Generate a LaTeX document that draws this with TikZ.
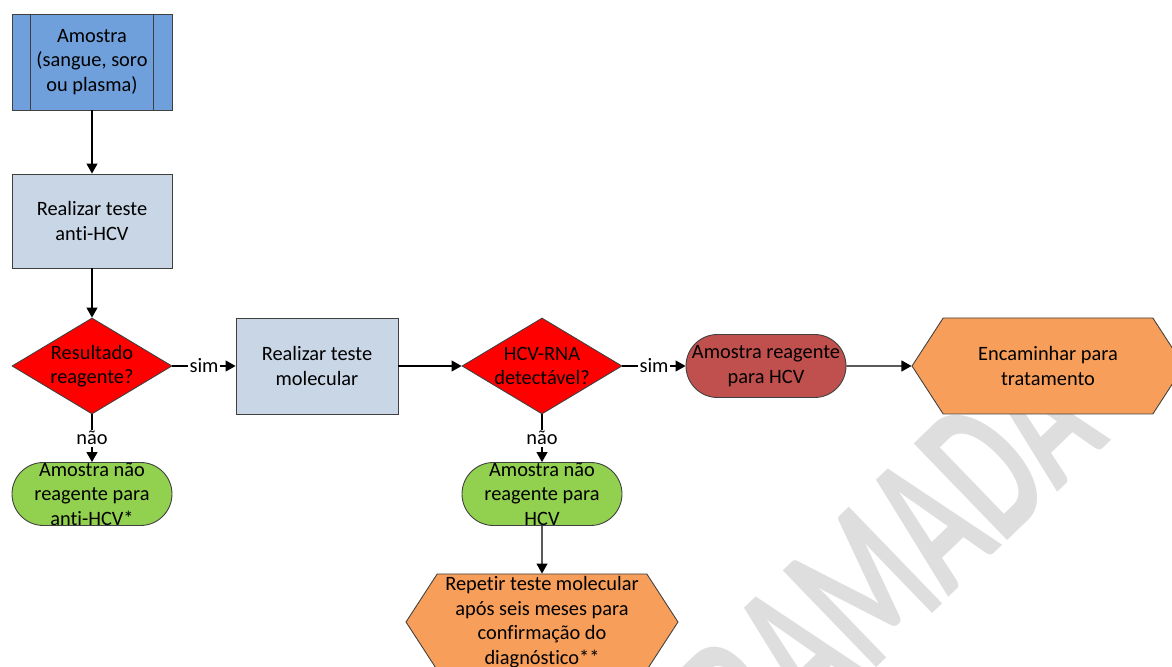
\documentclass[tikz,border=0pt]{standalone}
\usepackage{fontspec}
\setmainfont{Carlito}[Ligatures=NoCommon]
\usetikzlibrary{shapes.geometric,shapes.symbols,arrows.meta}

\definecolor{azulamostra}{RGB}{111,160,220}
\definecolor{cinzaproc}{RGB}{200,214,230}
\definecolor{vermelhodec}{RGB}{255,0,0}
\definecolor{vermelhoterm}{RGB}{192,80,77}
\definecolor{verdeterm}{RGB}{146,208,80}
\definecolor{laranjaprep}{RGB}{246,158,90}
\definecolor{contorno}{RGB}{64,64,64}
\definecolor{marcadagua}{RGB}{222,222,222}

\tikzset{
	base/.style={draw=contorno, line width=0.5pt, align=center, inner sep=0pt,
		font=\fontsize{11.6}{14}\selectfont},
	predef/.style={base, rectangle, fill=azulamostra, minimum width=3.2cm, minimum height=1.92cm},
	processo/.style={base, rectangle, fill=cinzaproc, minimum width=3.2cm, minimum height=1.88cm},
	decisao/.style={base, diamond, aspect=1.7, fill=vermelhodec, minimum width=3.2cm, minimum height=1.92cm},
	terminal/.style={base, rectangle, rounded corners=0.63cm, minimum width=3.2cm, minimum height=1.26cm},
	preparo/.style={base, signal, signal to=west and east, signal pointer angle=114,
		fill=laranjaprep, minimum width=5.44cm, minimum height=1.92cm},
	seta/.style={-{Triangle[length=0.2cm,width=0.22cm]}, line width=0.6pt},
	rotulo/.style={fill=white, inner sep=1pt, font=\fontsize{11.6}{14}\selectfont}
}

\begin{document}
\begin{tikzpicture}
		\useasboundingbox (0,0) rectangle (23.44,13.34);
		\clip (0,0) rectangle (23.44,13.34);
		\node[rotate=44, xscale=0.6, inner sep=0pt, text=marcadagua, font=\fontsize{118}{118}\selectfont\bfseries] (marca) at (17.84,2.16) {RAMADA};
		
		\node[predef] (amostra) at (1.84,12.10) {Amostra\\(sangue, soro\\ou plasma)};
		\draw[contorno, line width=0.5pt] ([xshift=0.38cm]amostra.north west) -- ([xshift=0.38cm]amostra.south west);
		\draw[contorno, line width=0.5pt] ([xshift=-0.38cm]amostra.north east) -- ([xshift=-0.38cm]amostra.south east);
		\node[processo] (antihcv) at (1.84,8.92) {Realizar teste\\anti-HCV};
		\node[decisao] (resultado) at (1.84,6.02) {Resultado\\reagente?};
		\node[processo, minimum width=3.24cm, minimum height=1.92cm] (molecular) at (6.34,6.02) {Realizar teste\\molecular};
		\node[decisao] (hcvrna) at (10.84,6.02) {HCV-RNA\\detectável?};
		\node[terminal, fill=vermelhoterm] (reagente) at (15.32,6.02) {Amostra reagente\\para HCV};
		\node[preparo] (encaminhar) at (20.96,6.02) {Encaminhar para\\tratamento};
		\node[terminal, fill=verdeterm] (naoreag1) at (1.84,3.46) {Amostra não\\reagente para\\anti-HCV*};
		\node[terminal, fill=verdeterm] (naoreag2) at (10.84,3.46) {Amostra não\\reagente para\\HCV};
		\node[preparo] (repetir) at (10.84,0.90) {Repetir teste molecular\\após seis meses para\\confirmação do\\diagnóstico**};
		
		\draw[seta] (amostra) -- (antihcv);
		\draw[seta] (antihcv) -- (resultado);
		\draw[seta] (resultado) -- node[rotulo]{sim} (molecular);
		\draw[seta] (molecular) -- (hcvrna);
		\draw[seta] (hcvrna) -- node[rotulo]{sim} (reagente);
		\draw[seta] (reagente) -- (encaminhar);
		\draw[seta] (resultado) -- node[rotulo]{não} (naoreag1);
		\draw[seta] (hcvrna) -- node[rotulo]{não} (naoreag2);
		\draw[seta] (naoreag2) -- (repetir);
		
	\end{tikzpicture}
\end{document}
